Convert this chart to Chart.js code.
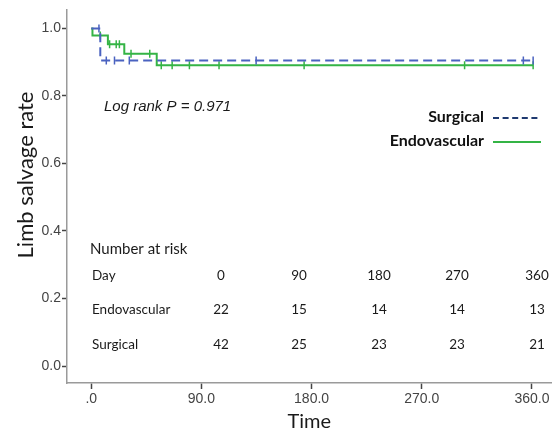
<!DOCTYPE html>
<html>
<head>
<meta charset="utf-8">
<script src="https://cdn.jsdelivr.net/npm/chart.js@4/dist/chart.umd.min.js"></script>
<style>
  html, body { margin: 0; padding: 0; background: #fff; }
  #wrap { width: 557px; height: 430px; position: relative; }
</style>
</head>
<body>
<div id="wrap"><canvas id="c" width="557" height="430"></canvas></div>
<script>
// ---- data ----
const timeTicks = [0, 90, 180, 270, 360];
const timeTickLabels = ['.0', '90.0', '180.0', '270.0', '360.0'];
const rateTicks = [0, 0.2, 0.4, 0.6, 0.8, 1.0];
const rateTickLabels = ['0.0', '0.2', '0.4', '0.6', '0.8', '1.0'];

// Kaplan-Meier steps (time, survival after that time)
const endoEventTimes = [0, 1, 13.6, 27, 53.5, 361];
const endoSurvival   = [1.0, 0.979, 0.953, 0.925, 0.891, 0.891];
const endoCensorTimes = [7.4, 15, 20.4, 23, 32.5, 47.8, 57.2, 66.1, 80.2, 104.4, 173.9, 305, 361];

const surgEventTimes = [0, 7.4, 361];
const surgSurvival   = [1.0, 0.905, 0.905];
const surgCensorTimes = [6.3, 12.3, 19, 31.1, 134.7, 353, 361];

// number at risk table
const riskHeader = 'Number at risk';
const riskRowLabels = ['Day', 'Endovascular', 'Surgical'];
const riskDays = [0, 90, 180, 270, 360];
const riskEndo = [22, 15, 14, 14, 13];
const riskSurg = [42, 25, 23, 23, 21];

const legendLabels = ['Surgical', 'Endovascular'];
const pValueText = 'Log rank P = 0.971';
const yTitle = 'Limb salvage rate';
const xTitle = 'Time';

// ---- helpers ----
function stepPoints(times, surv) {
  return times.map((t, i) => ({ x: t, y: surv[i] }));
}
function survAt(times, surv, t) {
  let v = surv[0];
  for (let i = 0; i < times.length; i++) { if (times[i] <= t) v = surv[i]; }
  return v;
}
function censorPoints(ctimes, times, surv) {
  return ctimes.map(t => ({ x: t, y: survAt(times, surv, t) }));
}

const BLUE = '#4a62c0';
const GREEN = '#34b445';
const NAVY = '#1f3a70';

const overlay = {
  id: 'overlay',
  afterDraw(chart) {
    const ctx = chart.ctx;
    ctx.save();
    // y axis title
    ctx.save();
    ctx.translate(26, 175);
    ctx.rotate(-Math.PI / 2);
    ctx.fillStyle = '#1a1a1a';
    ctx.font = '22px Lato, "Open Sans", sans-serif';
    ctx.textAlign = 'center';
    ctx.textBaseline = 'middle';
    ctx.fillText(yTitle, 0, 0);
    ctx.restore();

    // log-rank text
    ctx.fillStyle = '#1a1a1a';
    ctx.font = 'italic 15px "Liberation Sans", Arial, sans-serif';
    ctx.textAlign = 'left';
    ctx.textBaseline = 'middle';
    ctx.fillText(pValueText, 104, 107);

    // legend
    ctx.font = 'bold 16px Lato, "Open Sans", sans-serif';
    ctx.textAlign = 'right';
    ctx.fillStyle = '#111';
    ctx.fillText(legendLabels[0], 484, 117);
    ctx.fillText(legendLabels[1], 484, 141);
    ctx.lineWidth = 2;
    ctx.strokeStyle = NAVY;
    ctx.setLineDash([6, 3.6]);
    ctx.beginPath(); ctx.moveTo(493, 118); ctx.lineTo(541, 118); ctx.stroke();
    ctx.setLineDash([]);
    ctx.strokeStyle = GREEN;
    ctx.beginPath(); ctx.moveTo(493, 142); ctx.lineTo(541, 142); ctx.stroke();

    // number at risk table
    ctx.fillStyle = '#1a1a1a';
    ctx.textAlign = 'left';
    ctx.font = '15px Lato, "Open Sans", sans-serif';
    ctx.fillText(riskHeader, 90, 249);
    ctx.font = '13.5px Lato, "Open Sans", sans-serif';
    const rowY = [276, 310, 345];
    riskRowLabels.forEach((lab, i) => ctx.fillText(lab, 92, rowY[i]));
    const colX = [221, 299, 379, 457, 537];
    ctx.textAlign = 'center';
    [riskDays, riskEndo, riskSurg].forEach((row, r) => {
      row.forEach((v, c) => ctx.fillText(String(v), colX[c], rowY[r]));
    });
    ctx.restore();
  }
};

new Chart(document.getElementById('c'), {
  type: 'scatter',
  data: {
    datasets: [
      {
        label: 'Surgical',
        type: 'line',
        data: stepPoints(surgEventTimes, surgSurvival),
        stepped: 'before',
        borderColor: BLUE,
        borderWidth: 2,
        borderDash: [9, 5],
        pointRadius: 0,
        fill: false
      },
      {
        label: 'Surgical censored',
        data: censorPoints(surgCensorTimes, surgEventTimes, surgSurvival),
        pointStyle: 'line',
        rotation: 90,
        radius: 4,
        borderColor: BLUE,
        backgroundColor: BLUE,
        borderWidth: 1.5
      },
      {
        label: 'Endovascular',
        type: 'line',
        data: stepPoints(endoEventTimes, endoSurvival),
        stepped: 'before',
        borderColor: GREEN,
        borderWidth: 2,
        pointRadius: 0,
        fill: false
      },
      {
        label: 'Endovascular censored',
        data: censorPoints(endoCensorTimes, endoEventTimes, endoSurvival),
        pointStyle: 'line',
        rotation: 90,
        radius: 4,
        borderColor: GREEN,
        backgroundColor: GREEN,
        borderWidth: 1.5
      }
    ]
  },
  options: {
    responsive: false,
    animation: false,
    devicePixelRatio: 1,
    layout: { padding: { top: 9, left: 0, right: 0, bottom: 0 } },
    plugins: { legend: { display: false }, tooltip: { enabled: false } },
    scales: {
      x: {
        type: 'linear',
        min: -19.8,
        max: 376,
        afterFit(s) { s.height = 47; },
        afterBuildTicks(s) { s.ticks = timeTicks.map(v => ({ value: v })); },
        ticks: {
          autoSkip: false,
          maxRotation: 0,
          padding: 2,
          color: '#444',
          font: { family: '"Liberation Sans", Arial, sans-serif', size: 14 },
          callback: (v) => { const i = timeTicks.indexOf(v); return i >= 0 ? timeTickLabels[i] : ''; }
        },
        grid: { display: true, drawOnChartArea: false, drawTicks: true, tickLength: 6, tickColor: '#444', tickWidth: 1.5 },
        border: { display: true, color: '#9a9a9a', width: 1.5 },
        title: {
          display: true,
          text: xTitle,
          color: '#1a1a1a',
          font: { family: 'Lato, "Open Sans", sans-serif', size: 20, lineHeight: 0.8 },
          padding: { top: 0, bottom: 0 }
        }
      },
      y: {
        type: 'linear',
        min: -0.0503,
        max: 1.0562,
        afterFit(s) { s.width = 67; },
        afterBuildTicks(s) { s.ticks = rateTicks.map(v => ({ value: v })); },
        ticks: {
          autoSkip: false,
          padding: 1,
          color: '#444',
          font: { family: '"Liberation Sans", Arial, sans-serif', size: 14 },
          callback: (v) => { const i = rateTicks.findIndex(t => Math.abs(t - v) < 1e-9); return i >= 0 ? rateTickLabels[i] : ''; }
        },
        grid: { display: true, drawOnChartArea: false, drawTicks: true, tickLength: 5, tickColor: '#444', tickWidth: 1.5 },
        border: { display: true, color: '#9a9a9a', width: 1.5 },
        title: { display: false, text: yTitle }
      }
    }
  },
  plugins: [overlay]
});
</script>
</body>
</html>
